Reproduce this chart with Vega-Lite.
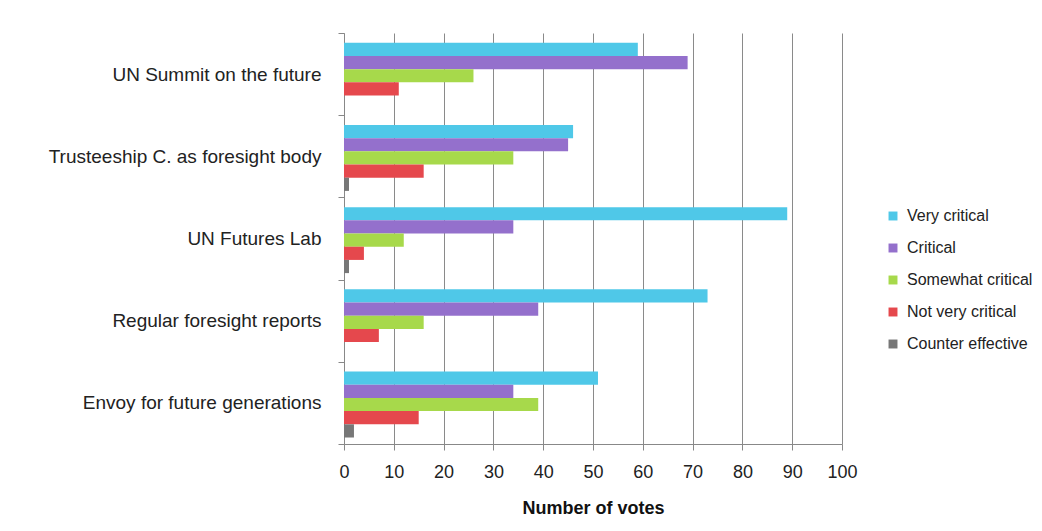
{
  "$schema": "https://vega.github.io/schema/vega-lite/v6.json",
  "autosize": "none",
  "width": 498,
  "height": 411,
  "padding": {"left": 344, "top": 33, "right": 200, "bottom": 87},
  "background": "white",
  "data": {
    "values": [
      {"item": "UN Summit on the future", "rating": "Very critical", "votes": 59},
      {"item": "UN Summit on the future", "rating": "Critical", "votes": 69},
      {"item": "UN Summit on the future", "rating": "Somewhat critical", "votes": 26},
      {"item": "UN Summit on the future", "rating": "Not very critical", "votes": 11},
      {"item": "UN Summit on the future", "rating": "Counter effective", "votes": 0},
      {"item": "Trusteeship C. as foresight body", "rating": "Very critical", "votes": 46},
      {"item": "Trusteeship C. as foresight body", "rating": "Critical", "votes": 45},
      {"item": "Trusteeship C. as foresight body", "rating": "Somewhat critical", "votes": 34},
      {"item": "Trusteeship C. as foresight body", "rating": "Not very critical", "votes": 16},
      {"item": "Trusteeship C. as foresight body", "rating": "Counter effective", "votes": 1},
      {"item": "UN Futures Lab", "rating": "Very critical", "votes": 89},
      {"item": "UN Futures Lab", "rating": "Critical", "votes": 34},
      {"item": "UN Futures Lab", "rating": "Somewhat critical", "votes": 12},
      {"item": "UN Futures Lab", "rating": "Not very critical", "votes": 4},
      {"item": "UN Futures Lab", "rating": "Counter effective", "votes": 1},
      {"item": "Regular foresight reports", "rating": "Very critical", "votes": 73},
      {"item": "Regular foresight reports", "rating": "Critical", "votes": 39},
      {"item": "Regular foresight reports", "rating": "Somewhat critical", "votes": 16},
      {"item": "Regular foresight reports", "rating": "Not very critical", "votes": 7},
      {"item": "Regular foresight reports", "rating": "Counter effective", "votes": 0},
      {"item": "Envoy for future generations", "rating": "Very critical", "votes": 51},
      {"item": "Envoy for future generations", "rating": "Critical", "votes": 34},
      {"item": "Envoy for future generations", "rating": "Somewhat critical", "votes": 39},
      {"item": "Envoy for future generations", "rating": "Not very critical", "votes": 15},
      {"item": "Envoy for future generations", "rating": "Counter effective", "votes": 2}
    ]
  },
  "mark": {"type": "bar"},
  "encoding": {
    "y": {
      "field": "item",
      "type": "nominal",
      "sort": ["UN Summit on the future", "Trusteeship C. as foresight body", "UN Futures Lab", "Regular foresight reports", "Envoy for future generations"],
      "scale": {"paddingInner": 0, "paddingOuter": 0},
      "axis": {
        "title": null,
        "tickBand": "extent",
        "tickSize": 6,
        "tickColor": "#888",
        "domainColor": "#888",
        "labelFont": "Liberation Sans",
        "labelFontSize": 19,
        "labelColor": "#222",
        "labelPadding": 17,
        "labelLimit": 340,
        "grid": false
      }
    },
    "yOffset": {
      "field": "rating",
      "type": "nominal",
      "sort": ["Very critical", "Critical", "Somewhat critical", "Not very critical", "Counter effective"],
      "scale": {"paddingInner": 0, "paddingOuter": 0.615, "align": 0.6}
    },
    "x": {
      "field": "votes",
      "type": "quantitative",
      "scale": {"domain": [0, 100], "nice": false},
      "axis": {
        "title": "Number of votes",
        "values": [0, 10, 20, 30, 40, 50, 60, 70, 80, 90, 100],
        "grid": true,
        "gridColor": "#8a8a8a",
        "gridOpacity": 1,
        "tickSize": 6,
        "tickColor": "#888",
        "domainColor": "#888",
        "labelFlush": false,
        "labelFont": "Liberation Sans",
        "labelFontSize": 18,
        "labelColor": "#222",
        "labelPadding": 13,
        "titleFont": "Liberation Sans",
        "titleFontSize": 18,
        "titleFontWeight": "bold",
        "titleColor": "#111",
        "titlePadding": 18
      }
    },
    "color": {
      "field": "rating",
      "type": "nominal",
      "sort": ["Very critical", "Critical", "Somewhat critical", "Not very critical", "Counter effective"],
      "scale": {
        "domain": ["Very critical", "Critical", "Somewhat critical", "Not very critical", "Counter effective"],
        "range": ["#4fc8e8", "#9470cc", "#a7d94b", "#e5484d", "#777777"]
      },
      "legend": {
        "title": null,
        "orient": "none",
        "legendX": 541,
        "legendY": 175,
        "symbolType": "square",
        "symbolSize": 80,
        "symbolStrokeWidth": 0,
        "labelFont": "Liberation Sans",
        "labelFontSize": 16,
        "labelColor": "#222",
        "rowPadding": 16,
        "labelOffset": 6,
        "labelLimit": 200
      }
    }
  },
  "config": {
    "view": {"stroke": null}
  }
}
